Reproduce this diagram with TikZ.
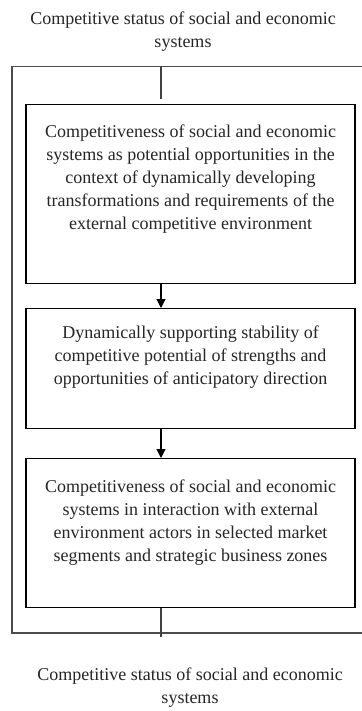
\documentclass[tikz,border=0pt]{standalone}
\usepackage{fontspec}
\setmainfont{Liberation Serif}
\usetikzlibrary{arrows.meta}
\newcommand{\boxcontent}[3]{\parbox[t][#1][t]{329pt}{\centering\vspace*{#2}#3}}
\begin{document}
\begin{tikzpicture}[x=1pt,y=-1pt,
  txt/.style={font=\fontsize{18}{23}\selectfont, text=black!85},
  stagebox/.style={draw=black, line width=1.1pt, inner sep=0pt, anchor=north, txt},
  frameline/.style={draw=black!70, line width=1.4pt},
  link/.style={draw=black!75, line width=1.4pt},
  arr/.style={draw=black, line width=1.1pt, -{Triangle[length=9pt,width=9pt]}},
  label/.style={txt, align=center, inner sep=0pt, anchor=north}]
\useasboundingbox (0,0) rectangle (361,711);
\fill[white] (0,0) rectangle (361,711);

% top and bottom labels
\node[label] (toplabel) at (183,11.7) {Competitive status of social and economic\\systems};
\node[label] (botlabel) at (190,667.7) {Competitive status of social and economic\\systems};

% outer frame (its right side lies beyond the picture)
\coordinate (ftr) at (362,66.5);
\coordinate (ftl) at (12,66.5);
\coordinate (fbl) at (12,633);
\coordinate (fbr) at (362,633);
\draw[frameline] (ftr) -- (ftl) -- (fbl) -- (fbr);

% stage boxes
\node[stagebox] (b1) at (190.5,104) {\boxcontent{179pt}{20pt}{Competitiveness of social and economic\\systems as potential opportunities in the\\context of dynamically developing\\transformations and requirements of the\\external competitive environment}};
\node[stagebox] (b2) at (190.5,308) {\boxcontent{120pt}{17pt}{Dynamically supporting stability of\\competitive potential of strengths and\\opportunities of anticipatory direction}};
\node[stagebox] (b3) at (190.5,458) {\boxcontent{149pt}{21pt}{Competitiveness of social and economic\\systems in interaction with external\\environment actors in selected market\\segments and strategic business zones}};

% connectors
\coordinate (ax) at (161,0);
\coordinate (tin) at (161,67);
\coordinate (tout) at (161,99);
\coordinate (bend) at (161,637);
\draw[link] (tin) -- (tout);
\draw[arr] (b1.south -| ax) -- (b2.north -| ax);
\draw[arr] (b2.south -| ax) -- (b3.north -| ax);
\draw[link] (b3.south -| ax) -- (bend);
\end{tikzpicture}
\end{document}
